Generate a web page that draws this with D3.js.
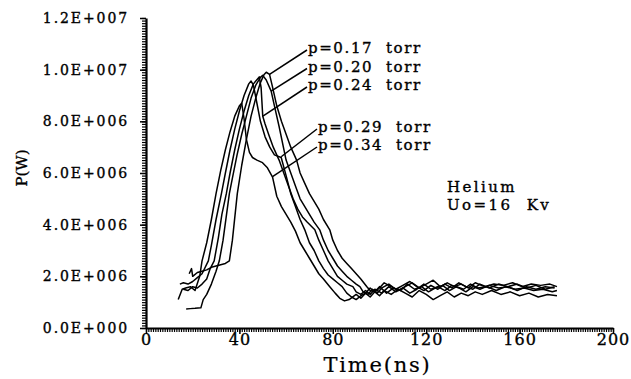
<!DOCTYPE html>
<html>
<head>
<meta charset="utf-8">
<script src="https://cdn.jsdelivr.net/npm/d3@7"></script>
<style>
  body { margin: 0; background: #fff; }
  svg { display: block; }
  text { font-family: "DejaVu Serif", serif; fill: #000; stroke: #000; stroke-width: 0.35px; }
</style>
</head>
<body>
<div id="chart"></div>
<script>
// Data (time in ns, power in units of 1E+006 W)
const xTicks = [0, 40, 80, 120, 160, 200];
const yTicks = [0, 2e6, 4e6, 6e6, 8e6, 10e6, 12e6];

const s017 = [[18.5,2.1],[19.5,2.3],[20,2.0],[22,2.15],[24,2.2],[26,2.25],[28,2.35],[30,2.4],[32,2.45],[34,2.5],[35.7,2.6],[37,3.4],[39.1,5.2],[41,6.3],[43,7.3],[45,8.2],[47,8.9],[49,9.5],[50.5,9.8],[51.5,9.9],[52.9,9.82],[54,9.4],[56,8.6],[58,8.0],[60,7.5],[62,7.0],[64.5,6.5],[66,6.0],[68,5.6],[70,5.2],[72,4.9],[74,4.6],[76,4.2],[78.7,3.8],[80,3.4],[82,3.0],[84,2.7],[86,2.5],[88,2.3],[90,2.1],[92,1.9],[94.6,1.6],[96,1.45],[98,1.4],[100,1.55],[102,1.75],[105,1.6],[108,1.45],[111,1.6],[114,1.75],[117,1.55],[120,1.7],[123,1.85],[126,1.6],[129,1.75],[132,1.6],[135,1.7],[138,1.55],[141,1.75],[145,1.6],[149,1.7],[153,1.65],[157,1.75],[161,1.6],[165,1.7],[169,1.65],[173,1.7],[176,1.6]];

const s020 = [[17.2,0.74],[19,0.75],[21,0.76],[23.5,0.78],[24.5,1.1],[26,1.3],[28,1.7],[30,2.2],[31.4,2.6],[33,3.4],[35.7,5.2],[37,5.8],[39,6.7],[41,7.5],[43,8.2],[45,8.9],[47,9.4],[49,9.7],[50,9.78],[51.5,9.6],[53.6,9.17],[55,8.6],[57,7.8],[60,6.5],[62,6.0],[64,5.5],[66,5.0],[68,4.7],[70,4.4],[72,4.1],[74.4,3.8],[76,3.4],[78,3.0],[80,2.7],[82,2.4],[84,2.2],[86,2.0],[88,1.85],[90,1.7],[91.6,1.6],[93,1.4],[95,1.3],[97,1.5],[99,1.35],[101,1.55],[104,1.7],[107,1.5],[110,1.65],[113,1.8],[116,1.6],[119,1.45],[122,1.65],[125,1.5],[128,1.7],[131,1.55],[134,1.75],[137,1.6],[140,1.5],[143,1.7],[147,1.55],[151,1.7],[155,1.6],[159,1.7],[163,1.55],[167,1.65],[171,1.5],[175,1.6]];

const s024 = [[16,1.5],[18,1.45],[20,1.6],[22,1.55],[24,1.7],[26,1.9],[27.5,2.3],[29.2,2.6],[31,3.5],[32.5,4.4],[34.4,5.2],[36,6.0],[38,6.9],[40,7.7],[42,8.4],[44,9.0],[46,9.45],[48.5,9.72],[49.3,9.3],[50,8.2],[51,7.9],[52.5,7.5],[54.5,7.0],[57,6.5],[59,6.0],[61,5.5],[63,5.0],[65,4.6],[67,4.3],[69,4.1],[72.3,3.8],[74,3.4],[76,3.0],[78,2.6],[80,2.3],[82,2.0],[84,1.85],[86,1.7],[88.6,1.6],[90,1.4],[92,1.3],[94,1.45],[96,1.3],[98,1.5],[101,1.35],[104,1.6],[107,1.4],[110,1.55],[113,1.35],[116,1.5],[119,1.7],[122,1.5],[125,1.6],[128,1.45],[131,1.65],[134,1.55],[137,1.4],[140,1.6],[143,1.5],[147,1.65],[151,1.55],[155,1.6],[159,1.45],[163,1.6],[167,1.5],[171,1.6],[175,1.55]];

const s029 = [[14.5,1.7],[16,1.75],[18,1.7],[20,1.8],[22,1.95],[24,2.1],[26.7,2.6],[28,3.2],[30,4.2],[32.3,5.2],[34,6.0],[36,6.9],[38,7.7],[40,8.4],[42,9.0],[44,9.45],[45,9.56],[46,9.4],[47.5,8.7],[49,8.0],[51,7.4],[53,7.0],[55,6.7],[57.9,6.6],[60,5.9],[62,5.2],[64,4.7],[66,4.2],[68,3.8],[70,3.3],[72,3.0],[74,2.6],[76,2.3],[78,2.05],[80,1.9],[82,1.75],[84,1.6],[86,1.35],[88,1.2],[90,1.1],[92,1.25],[94,1.35],[96,1.55],[98,1.4],[100,1.6],[103,1.35],[106,1.55],[109,1.45],[112,1.7],[115,1.5],[118,1.6],[121,1.4],[124,1.55],[127,1.65],[130,1.45],[133,1.6],[136,1.5],[139,1.7],[142,1.55],[146,1.6],[150,1.45],[154,1.6],[158,1.5],[162,1.55],[166,1.45],[170,1.5],[174,1.4],[176,1.45]];

const s034 = [[13.8,1.1],[15.5,1.5],[17,1.55],[19,1.6],[21,1.45],[23,2.0],[24,2.6],[26,3.3],[28,4.2],[30,5.2],[32,6.1],[34,6.9],[36,7.6],[38,8.2],[40,8.6],[41,8.7],[42,8.1],[43,7.3],[44.3,6.8],[45.6,6.6],[47.5,6.5],[49.9,6.4],[52,6.2],[54.2,5.84],[56,5.1],[58,4.7],[60,4.4],[62,4.1],[64,3.75],[66,3.3],[68,3.0],[70,2.7],[72,2.4],[74,2.1],[76,1.9],[78.7,1.6],[81,1.35],[83,1.15],[85,1.05],[87,1.1],[90,1.3],[92,1.15],[94,1.35],[96,1.2],[98,1.4],[100,1.25],[102,1.45],[105,1.3],[108,1.5],[111,1.35],[114,1.2],[117,1.45],[120,1.3],[123,1.1],[126,1.25],[129,1.4],[132,1.2],[135,1.35],[138,1.25],[141,1.4],[144,1.3],[148,1.45],[152,1.3],[156,1.4],[160,1.25],[164,1.35],[168,1.2],[172,1.3],[176,1.25]];

const seriesNames = ["p=0.17  torr", "p=0.20  torr", "p=0.24  torr", "p=0.29  torr", "p=0.34  torr"];
const seriesData = [s017, s020, s024, s029, s034];
// point on each curve that the label's leader line touches (ns, 1E+006 W)
const leaderAnchors = [[52.9, 9.82], [53.6, 9.17], [49.9, 8.19], [57.9, 6.63], [54.2, 5.86]];

const noteLines = ["Helium", "Uo=16  Kv"];

// Dimensions
const dims = { width: 631, height: 379, left: 146, right: 613, top: 18, bottom: 328 };

const svg = d3.select("#chart").append("svg")
  .attr("width", dims.width)
  .attr("height", dims.height);

// Scales
const xScale = d3.scaleLinear().domain([0, 200]).range([dims.left, dims.right]);
const yScale = d3.scaleLinear().domain([0, 12e6]).range([dims.bottom, dims.top]);

const sciFormat = (d) => {
  if (d === 0) return "0.0E+000";
  const e = Math.floor(Math.log10(d));
  return (d / Math.pow(10, e)).toFixed(1) + "E+" + String(e).padStart(3, "0");
};

// Minor ticks
svg.append("g")
  .attr("transform", `translate(0,${dims.bottom})`)
  .call(d3.axisBottom(xScale).tickValues(d3.range(0, 201, 1)).tickSize(4).tickFormat(""))
  .call((g) => g.select(".domain").remove())
  .selectAll("line").attr("stroke-width", 1.2);

svg.append("g")
  .attr("transform", `translate(${dims.left},0)`)
  .call(d3.axisLeft(yScale).tickValues(d3.range(0, 12e6 + 1, 1e5)).tickSize(4).tickFormat(""))
  .call((g) => g.select(".domain").remove())
  .selectAll("line").attr("stroke-width", 1.2);

// Major axes
const xAxis = svg.append("g")
  .attr("transform", `translate(0,${dims.bottom})`)
  .call(d3.axisBottom(xScale).tickValues(xTicks).tickSize(6).tickSizeOuter(0).tickPadding(0).tickFormat(d3.format("d")));
xAxis.select(".domain").attr("stroke-width", 2.2);
xAxis.selectAll(".tick line").attr("stroke-width", 1.5);
xAxis.selectAll("text")
  .style("font-family", '"DejaVu Serif", serif')
  .style("font-size", "16px")
  .style("letter-spacing", "1px")
  .attr("fill", "#000");

const yAxis = svg.append("g")
  .attr("transform", `translate(${dims.left},0)`)
  .call(d3.axisLeft(yScale).tickValues(yTicks).tickSize(6).tickSizeOuter(0).tickPadding(11).tickFormat(sciFormat));
yAxis.select(".domain").attr("stroke-width", 2.2);
yAxis.selectAll(".tick line").attr("stroke-width", 1.5);
yAxis.selectAll("text")
  .style("font-family", '"DejaVu Serif", serif')
  .style("font-size", "14px")
  .style("letter-spacing", "1.9px")
  .attr("fill", "#000");

// Axis titles
svg.append("text")
  .attr("x", (dims.left + dims.right) / 2 - 2)
  .attr("y", 372)
  .attr("text-anchor", "middle")
  .style("font-size", "21px")
  .style("letter-spacing", "1.8px")
  .style("stroke-width", "0.2px")
  .text("Time(ns)");

svg.append("text")
  .attr("transform", "translate(27,168) rotate(-90)")
  .attr("text-anchor", "middle")
  .style("font-size", "15px")
  .text("P(W)");

// Curves
const lineGenerator = d3.line()
  .x((d) => xScale(d[0]))
  .y((d) => yScale(d[1] * 1e6));

svg.append("g")
  .selectAll("path")
  .data(seriesData)
  .join("path")
  .attr("d", lineGenerator)
  .attr("fill", "none")
  .attr("stroke", "#000")
  .attr("stroke-width", 1.5)
  .attr("stroke-linejoin", "round");

// Labels with leader lines
const labelPos = [[308, 53], [308, 71.5], [308, 90], [318, 132], [318, 150]];

const labels = svg.append("g");
seriesNames.forEach((name, i) => {
  const [lx, ly] = labelPos[i];
  const [ax, ay] = leaderAnchors[i];
  labels.append("line")
    .attr("x1", lx - 1)
    .attr("y1", ly - 3)
    .attr("x2", xScale(ax))
    .attr("y2", yScale(ay * 1e6))
    .attr("stroke", "#000")
    .attr("stroke-width", 1.5);
  labels.append("text")
    .attr("x", lx)
    .attr("y", ly)
    .style("font-size", "15px")
    .style("letter-spacing", "1.6px")
    .style("white-space", "pre")
    .text(name);
});

// Note
svg.append("g")
  .selectAll("text")
  .data(noteLines)
  .join("text")
  .attr("x", 447)
  .attr("y", (d, i) => 192 + i * 18)
  .style("font-size", "15px")
  .style("letter-spacing", "2.4px")
  .style("white-space", "pre")
  .text((d) => d);
</script>
</body>
</html>
